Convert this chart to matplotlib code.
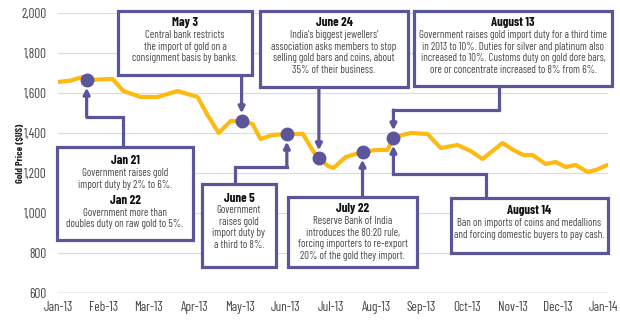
import matplotlib
matplotlib.use("Agg")
import matplotlib.pyplot as plt
from matplotlib.patches import Rectangle, FancyArrowPatch
from matplotlib.lines import Line2D

# 数据：x 为距 2013 年 1 月的月数
month_pos = [0.0, 0.275, 0.54, 0.63, 0.935, 1.20, 1.44, 1.815, 2.19, 2.63, 3.07, 3.29,
             3.535, 3.80, 4.04, 4.28, 4.455, 4.72, 5.035, 5.39, 5.61, 5.74, 5.94, 6.06,
             6.33, 6.70, 6.99, 7.25, 7.38, 7.58, 7.76, 8.13, 8.42, 8.79, 9.08, 9.34,
             9.78, 10.02, 10.24, 10.44, 10.73, 10.95, 11.17, 11.39, 11.65, 11.83, 12.09]
gold_price = [1655, 1662, 1680, 1665, 1668, 1670, 1610, 1580, 1580, 1610, 1580, 1490,
              1400, 1460, 1460, 1445, 1370, 1390, 1395, 1395, 1310, 1275, 1235, 1225,
              1280, 1305, 1315, 1315, 1375, 1390, 1400, 1395, 1325, 1340, 1310, 1270,
              1350, 1315, 1290, 1290, 1245, 1255, 1230, 1240, 1205, 1215, 1240]

event_pos = [0.63, 4.04, 5.035, 5.74, 6.70, 7.38]
event_price = [1665, 1460, 1395, 1275, 1305, 1375]

month_labels = ['Jan-13', 'Feb-13', 'Mar-13', 'Apr-13', 'May-13', 'Jun-13', 'Jul-13',
                'Aug-13', 'Sep-13', 'Oct-13', 'Nov-13', 'Dec-13', 'Jan-14']
y_ticks = [600, 800, 1000, 1200, 1400, 1600, 1800, 2000]

# 注释框：(像素框 x0, y0, x1, y1, 第一行 y, 连接边, 连接点 x, 折弯 y, 事件索引, 文字)
notes = [
    ((57, 147, 193, 240), 161, 'top', 123, 117, 0,
     [('Jan 21', True), ('Government raises gold', False), ('import duty by 2% to 6%.', False),
      ('Jan 22', True), ('Government more than', False), ('doubles duty on raw gold to 5%.', False)]),
    ((118, 11, 252, 75), 23, 'bottom', None, None, 1,
     [('May 3', True), ('Central bank restricts', False), ('the import of gold on a', False),
      ('consignment basis by banks.', False)]),
    ((202, 184, 276, 267), 198, 'top', 235, 167, 2,
     [('June 5', True), ('Government', False), ('raises gold', False),
      ('import duty by', False), ('a third to 8%.', False)]),
    ((260, 11, 408, 87), 23, 'bottom', None, None, 3,
     [('June 24', True), ("India's biggest jewellers'", False),
      ('association asks members to stop', False), ('selling gold bars and coins, about', False),
      ('35% of their business.', False)]),
    ((288, 197, 417, 267), 209, 'top', None, None, 4,
     [('July 22', True), ('Reserve Bank of India', False), ('introduces the 80:20 rule,', False),
      ('forcing importers to re-export', False), ('20% of the gold they import.', False)]),
    ((414, 11, 612, 86), 23, 'bottom', 499, 110, 5,
     [('August 13', True), ('Government raises gold import duty for a third time', False),
      ('in 2013 to 10%. Duties for silver and platinum also', False),
      ('increased to 10%. Customs duty on gold dore bars,', False),
      ('ore or concentrate increased to 8% from 6%.', False)]),
    ((451, 198, 608, 253), 211, 'top', 486, 174, 5,
     [('August 14', True), ('Ban on imports of coins and medallions', False),
      ('and forcing domestic buyers to pay cash.', False)]),
]

W, H = 620, 327
purple = '#5B5599'
gold = '#FDBA12'
plt.rcParams['font.family'] = ['Barlow Condensed', 'Archivo Narrow', 'DejaVu Sans']


def fx(x):
    return x / W


def fy(y):
    return 1 - y / H


fig = plt.figure(figsize=(6.2, 3.27), dpi=100)
ax = fig.add_axes([fx(58), fy(293), 550 / W, 280 / H])
ax.set_xlim(0, 550 / 45.45)
ax.set_ylim(600, 2000)

for v in y_ticks[1:]:
    ax.axhline(v, color='#DDDDDD', lw=0.9, zorder=0)
ax.axhline(600, color='#A8A8A8', lw=1.0, zorder=0)

ax.plot(month_pos, gold_price, color=gold, lw=3.0, solid_joinstyle='round',
        solid_capstyle='round', zorder=2)
ax.plot(event_pos, event_price, 'o', color=purple, ms=9, zorder=3)

for s in ax.spines.values():
    s.set_visible(False)
ax.set_xticks(range(len(month_labels)))
ax.set_xticklabels(month_labels, fontsize=9.5, color='#444444')
ax.set_yticks(y_ticks)
ax.set_yticklabels([f'{v:,}' for v in y_ticks], fontsize=9.5, color='#444444')
ax.tick_params(length=0, pad=8)
ax.tick_params(axis='x', pad=6)
fig.text(fx(20), fy(153), 'Gold Price ($US)', rotation=90, ha='center', va='center',
         fontsize=7.3, fontweight='bold', color='#222222')

for box, ty, side, axp, bend, idx, lines in notes:
    x0, y0, x1, y1 = box
    fig.add_artist(Rectangle((fx(x0), fy(y1)), fx(x1) - fx(x0), fy(y0) - fy(y1),
                             transform=fig.transFigure, facecolor='white',
                             edgecolor=purple, lw=2.3, zorder=5))
    cx = (x0 + x1) / 2
    y = ty
    prev_bold = None
    for txt, bold in lines:
        if prev_bold is not None:
            if bold:
                y += 16
            elif prev_bold:
                y += 12
            else:
                y += 11.6
        fig.text(fx(cx), fy(y), txt, ha='center', va='center', zorder=6,
                 fontsize=9.2 if bold else 7.8, fontweight='bold' if bold else 'normal',
                 color='#111111' if bold else '#4A4A4A')
        prev_bold = bold

    # 连接线与箭头
    dx, dy = ax.transData.transform((event_pos[idx], event_price[idx]))
    mx, my = dx, H - dy
    start_y = y0 if side == 'top' else y1
    if axp is None:
        pts = [(mx, start_y)]
    else:
        pts = [(axp, start_y), (axp, bend), (mx, bend)]
    if len(pts) > 1:
        fig.add_artist(Line2D([fx(p[0]) for p in pts], [fy(p[1]) for p in pts],
                              transform=fig.transFigure, color=purple, lw=2.3,
                              solid_joinstyle='miter', zorder=4))
    fig.add_artist(FancyArrowPatch((fx(pts[-1][0]), fy(pts[-1][1])), (fx(mx), fy(my)),
                                   transform=fig.transFigure, arrowstyle='-|>',
                                   mutation_scale=9, color=purple, lw=2.3,
                                   shrinkA=0, shrinkB=5.5, zorder=4))

fig.savefig('out.png', dpi=100)
